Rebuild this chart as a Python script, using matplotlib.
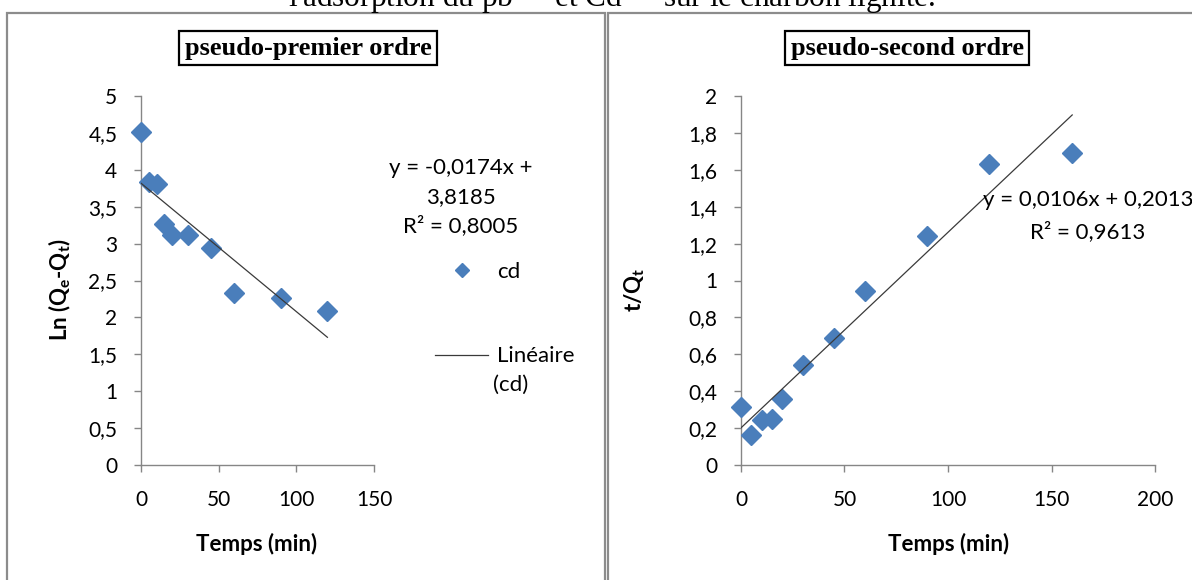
import matplotlib
matplotlib.use("Agg")
import matplotlib.pyplot as plt
from matplotlib.patches import Rectangle

# ---------------- data ----------------
t_first = [0, 5, 10, 15, 20, 30, 45, 60, 90, 120]
ln_qe_qt = [4.51, 3.83, 3.81, 3.26, 3.12, 3.12, 2.94, 2.33, 2.26, 2.09]
slope_first, icpt_first, r2_first = -0.0174, 3.8185, 0.8005

t_second = [0, 5, 10, 15, 20, 30, 45, 60, 90, 120, 160]
t_over_qt = [0.316, 0.163, 0.244, 0.248, 0.36, 0.54, 0.69, 0.943, 1.24, 1.63, 1.69]
slope_second, icpt_second, r2_second = 0.0106, 0.2013, 0.9613

x1_ticks = [0, 50, 100, 150]
y1_ticks = [0, 0.5, 1, 1.5, 2, 2.5, 3, 3.5, 4, 4.5, 5]
y1_labels = ["0", "0,5", "1", "1,5", "2", "2,5", "3", "3,5", "4", "4,5", "5"]
x2_ticks = [0, 50, 100, 150, 200]
y2_ticks = [0, 0.2, 0.4, 0.6, 0.8, 1, 1.2, 1.4, 1.6, 1.8, 2]
y2_labels = ["0", "0,2", "0,4", "0,6", "0,8", "1", "1,2", "1,4", "1,6", "1,8", "2"]

title_first = "pseudo-premier ordre"
title_second = "pseudo-second ordre"
xlabel = "Temps (min)"
ylabel_first = r"Ln (Q$_\mathbf{e}$-Q$_\mathbf{t}$)"
ylabel_second = r"t/Q$_\mathbf{t}$"
series_name = "cd"
fit_name_1, fit_name_2 = "Linéaire", "(cd)"
caption = r"l'adsorption du pb$^{2+}$ et Cd$^{2+}$ sur le charbon lignite."

# ---------------- style ----------------
W, H = 1192, 580
plt.rcParams['font.family'] = ['Lato', 'DejaVu Sans']
plt.rcParams['mathtext.fontset'] = 'custom'
plt.rcParams['mathtext.rm'] = 'Lato'
plt.rcParams['mathtext.bf'] = 'Lato:bold'
plt.rcParams['mathtext.it'] = 'Lato:italic'

BLUE = '#4A7EBB'
AXC = '#868686'
FS = 15
FS_EQ = 16
FS_LAB = 16

fig = plt.figure(figsize=(W / 100, H / 100), dpi=100)


def fx(x):
    return x / W


def fy(y):
    return 1 - y / H


# panel frames
fig.add_artist(Rectangle((fx(7), -0.1), fx(605 - 7), fy(13) + 0.1, transform=fig.transFigure,
                         fill=False, ec='#8c8c8c', lw=1.6))
fig.add_artist(Rectangle((fx(608), -0.1), 0.6, fy(13) + 0.1, transform=fig.transFigure,
                         fill=False, ec='#8c8c8c', lw=1.6))

fig.text(fx(612), fy(7), caption, ha='center', va='baseline', family='Liberation Serif',
         size=22.5, math_fontfamily='stix')


def style_axes(ax, xt, yt, ylab):
    for s in ('top', 'right'):
        ax.spines[s].set_visible(False)
    for s in ('left', 'bottom'):
        ax.spines[s].set_color(AXC)
        ax.spines[s].set_linewidth(1.0)
    ax.set_xticks(xt)
    ax.set_xticklabels([str(v) for v in xt])
    ax.set_yticks(yt)
    ax.set_yticklabels(ylab)
    ax.tick_params(axis='x', direction='out', length=5, width=1, color=AXC, pad=13,
                   labelsize=FS)
    ax.tick_params(axis='y', direction='out', length=5, width=1, color=AXC, pad=12,
                   labelsize=FS)
    ax.set_facecolor('none')


# ---------------- left panel ----------------
ax1 = fig.add_axes([fx(141), 1 - 465 / H, 233 / W, 369 / H])
ax1.set_xlim(0, 150)
ax1.set_ylim(0, 5)
sc1, = ax1.plot(t_first, ln_qe_qt, linestyle='none', marker='D', ms=10.5, color=BLUE,
                mec=BLUE, clip_on=False, zorder=3)
xf1 = [0, max(t_first)]
fit1, = ax1.plot(xf1, [slope_first * x + icpt_first for x in xf1], color='#3a3a3a', lw=0.9,
                 zorder=4)
style_axes(ax1, x1_ticks, y1_ticks, y1_labels)
ax1.set_xlabel(xlabel, fontsize=FS_LAB, fontweight='bold')
ax1.xaxis.set_label_coords(fx(257), fy(533), transform=fig.transFigure)
ax1.set_ylabel(ylabel_first, fontsize=FS_LAB, fontweight='bold')
ax1.yaxis.set_label_coords(fx(73), fy(290), transform=fig.transFigure)

fig.text(fx(308), fy(48), title_first, ha='center', va='center', family='Liberation Serif',
         weight='bold', size=19,
         bbox=dict(boxstyle='square,pad=0.22', fc='white', ec='black', lw=1.6))

eq1 = f"y = {slope_first:.4f}x +".replace('.', ',')
fig.text(fx(461), fy(168), eq1, ha='center', va='center', size=FS_EQ)
fig.text(fx(461), fy(197), f"{icpt_first:.4f}".replace('.', ','), ha='center', va='center',
         size=FS_EQ)
fig.text(fx(461), fy(226), f"R² = {r2_first:.4f}".replace('.', ','), ha='center', va='center',
         size=FS_EQ)

leg = ax1.legend([sc1, fit1], [series_name, fit_name_1], loc='upper left',
                 bbox_to_anchor=(fx(435), fy(262)), bbox_transform=fig.transFigure,
                 frameon=False, fontsize=FS_EQ, labelspacing=2.9, handlelength=2.4,
                 handletextpad=0.4, borderpad=0, borderaxespad=0, markerscale=0.7)
fig.text(fx(493), fy(385), fit_name_2, ha='left', va='center', size=FS_EQ)

# ---------------- right panel ----------------
ax2 = fig.add_axes([fx(741), 1 - 465 / H, 414 / W, 369 / H])
ax2.set_xlim(0, 200)
ax2.set_ylim(0, 2)
ax2.plot(t_second, t_over_qt, linestyle='none', marker='D', ms=10.5, color=BLUE, mec=BLUE,
         clip_on=False, zorder=3)
xf2 = [0, max(t_second)]
ax2.plot(xf2, [slope_second * x + icpt_second for x in xf2], color='#3a3a3a', lw=0.9, zorder=4)
style_axes(ax2, x2_ticks, y2_ticks, y2_labels)
ax2.set_xlabel(xlabel, fontsize=FS_LAB, fontweight='bold')
ax2.xaxis.set_label_coords(fx(949), fy(533), transform=fig.transFigure)
ax2.set_ylabel(ylabel_second, fontsize=FS_LAB, fontweight='bold')
ax2.yaxis.set_label_coords(fx(647), fy(290), transform=fig.transFigure)

fig.text(fx(907), fy(48), title_second, ha='center', va='center', family='Liberation Serif',
         weight='bold', size=19,
         bbox=dict(boxstyle='square,pad=0.22', fc='white', ec='black', lw=1.6))

eq2 = f"y = {slope_second:.4f}x + {icpt_second:.4f}".replace('.', ',')
fig.text(fx(983), fy(200), eq2, ha='left', va='center', size=FS_EQ)
fig.text(fx(1088), fy(232), f"R² = {r2_second:.4f}".replace('.', ','), ha='center', va='center',
         size=FS_EQ)

fig.savefig("out.png", dpi=100)
